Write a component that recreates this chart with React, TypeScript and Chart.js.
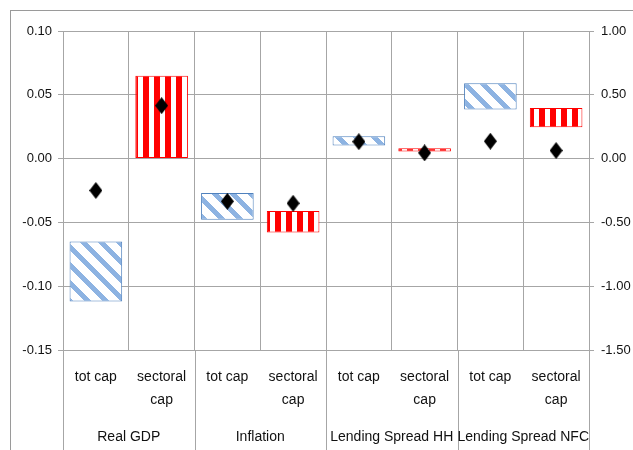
import React, { useEffect, useRef } from 'react';
import { Chart, registerables } from 'chart.js';

Chart.register(...registerables);

// ---- data ----
const categories = ['tot cap', 'sectoral cap', 'tot cap', 'sectoral cap', 'tot cap', 'sectoral cap', 'tot cap', 'sectoral cap'];
const groups = ['Real GDP', 'Inflation', 'Lending Spread HH', 'Lending Spread NFC'];

// left axis (Real GDP, Inflation)
const leftLow = [-0.112, 0.0, -0.048, -0.058, null, null, null, null];
const leftHigh = [-0.065, 0.065, -0.027, -0.041, null, null, null, null];
const leftPoint = [-0.025, 0.0415, -0.0335, -0.035, null, null, null, null];

// right axis (Lending spreads)
const rightLow = [null, null, null, null, 0.102, 0.055, 0.384, 0.245];
const rightHigh = [null, null, null, null, 0.175, 0.081, 0.59, 0.397];
const rightPoint = [null, null, null, null, 0.133, 0.045, 0.136, 0.063];

const leftTicks = [-0.15, -0.1, -0.05, 0, 0.05, 0.1];
const rightTicks = [-1.5, -1.0, -0.5, 0, 0.5, 1.0];

const GRID = '#A6A6A6';
const TEXT = '#111111';
const FONT = '"Liberation Sans", Arial, sans-serif';

function makeBluePattern(ctx: CanvasRenderingContext2D) {
  const s = 18;
  const w = 7;
  const c = document.createElement('canvas');
  c.width = s; c.height = s;
  const g = c.getContext('2d')!;
  g.fillStyle = '#ffffff';
  g.fillRect(0, 0, s, s);
  g.fillStyle = '#8DB3E2';
  for (let y = 0; y < s; y++) {
    for (let x = 0; x < s; x++) {
      if ((((x - y) % s) + s) % s < w) g.fillRect(x, y, 1, 1);
    }
  }
  return ctx.createPattern(c, 'repeat')!;
}

function makeRedPattern(ctx: CanvasRenderingContext2D) {
  const c = document.createElement('canvas');
  c.width = 11; c.height = 4;
  const g = c.getContext('2d')!;
  g.fillStyle = '#ffffff';
  g.fillRect(0, 0, 11, 4);
  g.fillStyle = '#FF0000';
  g.fillRect(0, 0, 6, 4);
  return ctx.createPattern(c, 'repeat')!;
}

function makeDiamond() {
  const w = 13, h = 17;
  const c = document.createElement('canvas');
  c.width = w; c.height = h;
  const g = c.getContext('2d')!;
  g.fillStyle = '#000000';
  g.beginPath();
  g.moveTo(w / 2, 0);
  g.lineTo(w, h / 2);
  g.lineTo(w / 2, h);
  g.lineTo(0, h / 2);
  g.closePath();
  g.fill();
  return c;
}

const framePlugin = {
  id: 'frame',
  beforeDraw(chart: any) {
    const { ctx } = chart;
    ctx.save();
    ctx.strokeStyle = '#9A9A9A';
    ctx.lineWidth = 1;
    ctx.strokeRect(10.5, 10.5, 800, 800);
    ctx.restore();
  },
};

const xLabelsPlugin = {
  id: 'xlabels',
  afterDraw(chart: any) {
    const { ctx, chartArea } = chart;
    const x = chart.scales.x;
    const n = categories.length;
    const half = (x.getPixelForValue(1) - x.getPixelForValue(0)) / 2;
    const bottom = chart.height;
    ctx.save();
    ctx.strokeStyle = GRID;
    ctx.lineWidth = 1;
    for (let g = 0; g <= groups.length; g++) {
      const raw = g === groups.length ? x.getPixelForValue(n - 1) + half : x.getPixelForValue(g * 2) - half;
      const px = Math.round(raw) + 0.5;
      ctx.beginPath();
      ctx.moveTo(px, chartArea.bottom);
      ctx.lineTo(px, bottom);
      ctx.stroke();
    }
    ctx.fillStyle = TEXT;
    ctx.font = '14px ' + FONT;
    ctx.textAlign = 'center';
    ctx.textBaseline = 'middle';
    const y0 = chartArea.bottom;
    for (let i = 0; i < n; i++) {
      const cx = x.getPixelForValue(i);
      const parts = categories[i] === 'sectoral cap' ? ['sectoral', 'cap'] : [categories[i]];
      parts.forEach((p, j) => ctx.fillText(p, cx, y0 + 27 + j * 23));
    }
    for (let g = 0; g < groups.length; g++) {
      const cx = (x.getPixelForValue(g * 2) + x.getPixelForValue(g * 2 + 1)) / 2;
      ctx.fillText(groups[g], cx, y0 + 87);
    }
    ctx.restore();
  },
};

export default function App() {
  const ref = useRef<HTMLCanvasElement>(null);
  useEffect(() => {
    const canvas = ref.current!;
    const ctx = canvas.getContext('2d')!;
    const blue = makeBluePattern(ctx);
    const red = makeRedPattern(ctx);
    const diamond = makeDiamond();
    const bg = categories.map((_, i) => (i % 2 === 0 ? blue : red));
    const bc = categories.map((_, i) => (i % 2 === 0 ? '#4F81BD' : '#FF0000'));

    const chart = new Chart(canvas, {
      type: 'bar',
      data: {
        labels: categories,
        datasets: [
          {
            type: 'line',
            data: leftPoint,
            yAxisID: 'y',
            showLine: false,
            pointStyle: diamond as any,
            pointRadius: 7,
            order: 0,
          } as any,
          {
            type: 'line',
            data: rightPoint,
            yAxisID: 'y1',
            showLine: false,
            pointStyle: diamond as any,
            pointRadius: 7,
            order: 0,
          } as any,
          {
            type: 'bar',
            data: leftLow.map((v, i) => (v === null ? null : [v, leftHigh[i]])),
            yAxisID: 'y',
            backgroundColor: bg,
            borderColor: bc,
            borderWidth: 1,
            borderSkipped: false,
            grouped: false,
            barPercentage: 0.8,
            categoryPercentage: 1,
            order: 1,
          } as any,
          {
            type: 'bar',
            data: rightLow.map((v, i) => (v === null ? null : [v, rightHigh[i]])),
            yAxisID: 'y1',
            backgroundColor: bg,
            borderColor: bc,
            borderWidth: 1,
            borderSkipped: false,
            grouped: false,
            barPercentage: 0.8,
            categoryPercentage: 1,
            order: 1,
          } as any,
        ],
      },
      options: {
        responsive: false,
        animation: false,
        layout: { padding: { top: 31, bottom: 100, left: 0, right: 0 } },
        plugins: { legend: { display: false }, tooltip: { enabled: false } },
        scales: {
          x: {
            type: 'category',
            offset: true,
            ticks: { display: false },
            grid: { offset: true, color: GRID, drawTicks: false },
            border: { display: false },
            afterFit: (s: any) => { s.height = 0; },
          },
          y: {
            position: 'left',
            min: -0.15,
            max: 0.1,
            afterBuildTicks: (s: any) => { s.ticks = leftTicks.map((v) => ({ value: v })); },
            ticks: {
              callback: (v: any) => Number(v).toFixed(2),
              color: TEXT,
              font: { family: FONT, size: 13 },
              padding: 6,
            },
            grid: { color: GRID, tickLength: 5 },
            border: { color: GRID },
            afterFit: (s: any) => { s.width = 63; },
          },
          y1: {
            position: 'right',
            min: -1.5,
            max: 1.0,
            afterBuildTicks: (s: any) => { s.ticks = rightTicks.map((v) => ({ value: v })); },
            ticks: {
              callback: (v: any) => Number(v).toFixed(2),
              color: TEXT,
              font: { family: FONT, size: 13 },
              padding: 7,
            },
            grid: { color: GRID, tickLength: 5, drawOnChartArea: false },
            border: { color: GRID },
            afterFit: (s: any) => { s.width = 44; },
          },
        },
      } as any,
      plugins: [framePlugin, xLabelsPlugin],
    });
    return () => chart.destroy();
  }, []);

  return (
    <div style={{ position: 'fixed', left: 0, top: 0, width: 633, height: 450, background: '#fff' }}>
      <canvas ref={ref} width={633} height={450} style={{ display: 'block', width: 633, height: 450 }} />
    </div>
  );
}
